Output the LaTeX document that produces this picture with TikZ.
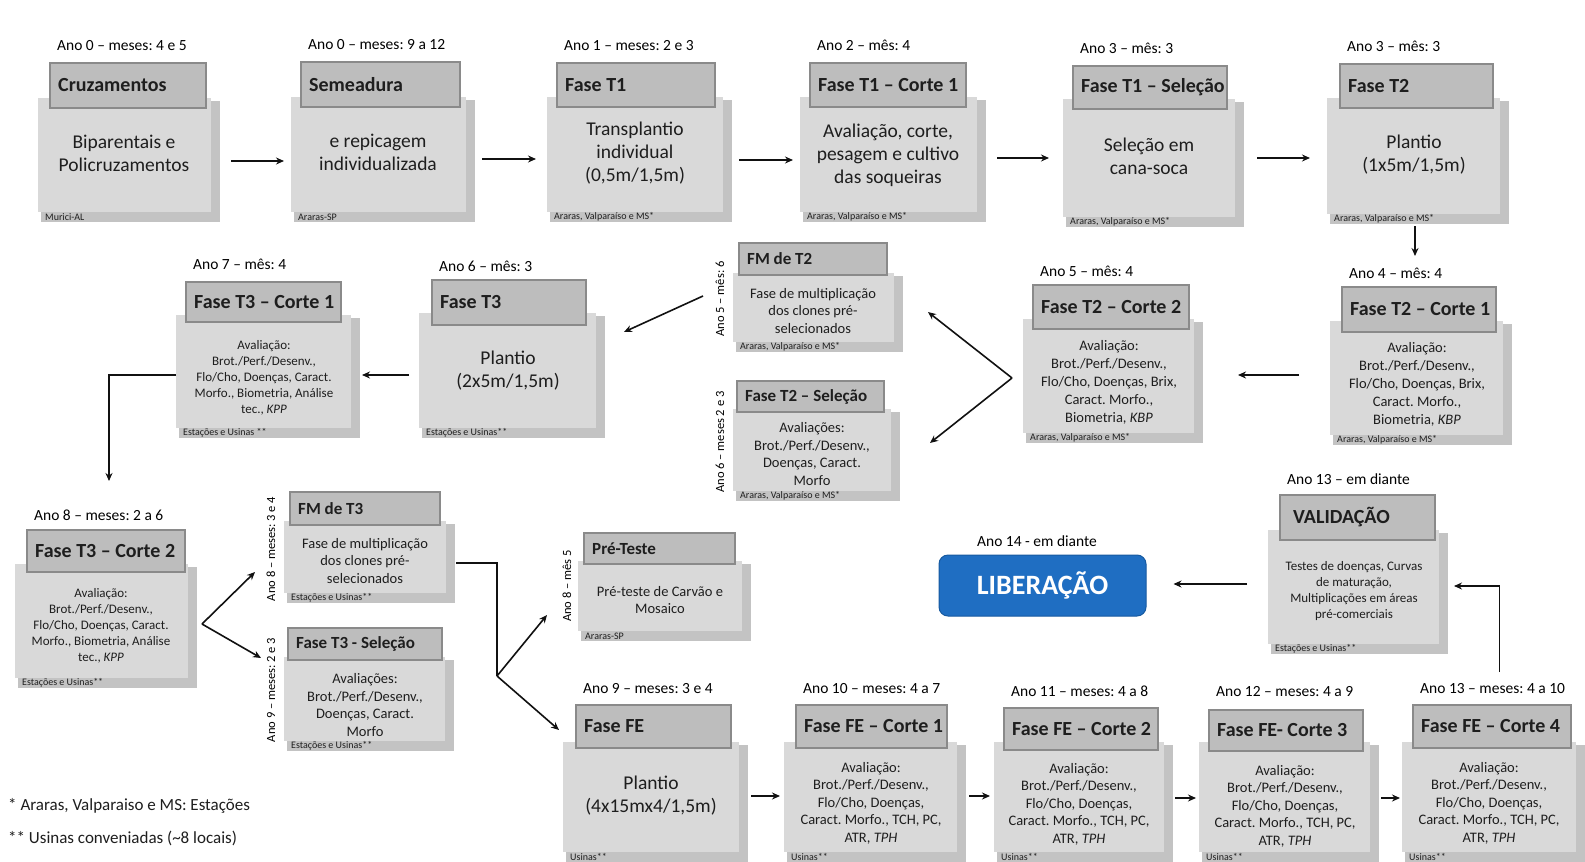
\documentclass[tikz,border=0pt]{standalone}
\usepackage{fontspec}
\setmainfont{Carlito}
\usetikzlibrary{arrows.meta}
\frenchspacing
\definecolor{frontc}{HTML}{D9D9D9}
\definecolor{backc}{HTML}{C3C3C3}
\definecolor{headc}{HTML}{BDBDBD}
\definecolor{bordc}{HTML}{8A8A8A}
\definecolor{txtc}{HTML}{1E1E1E}
\definecolor{libc}{HTML}{1F6EC2}
\definecolor{libb}{HTML}{175AA0}
\definecolor{arrc}{HTML}{111111}
\tikzset{
  boxn/.style={inner sep=0pt, outer sep=0pt},
  headbox/.style={fill=headc, draw=bordc, line width=1.2pt, inner sep=0pt, outer sep=0pt},
  htitle/.style={inner sep=0pt, text=txtc, font=\fontsize{20}{22}\selectfont\bfseries},
  hsmall/.style={inner sep=0pt, text=txtc, font=\fontsize{17}{20}\selectfont\bfseries},
  foot/.style={inner sep=0pt, text=txtc, font=\fontsize{10}{10}\selectfont},
  lbl/.style={inner sep=0pt, anchor=west, text=black, font=\fontsize{15.5}{18}\selectfont},
  rlbl/.style={inner sep=0pt, rotate=90, text=black, font=\fontsize{12.5}{14}\selectfont},
  body/.style={inner sep=0pt, align=center, text=txtc},
  bodyL/.style={body, font=\fontsize{19.5}{23}\selectfont},
  bodyM/.style={body, font=\fontsize{14.5}{18}\selectfont},
  bodyS/.style={body, font=\fontsize{13}{16}\selectfont},
  bodyF/.style={body, font=\fontsize{14.5}{17.5}\selectfont},
  note/.style={inner sep=0pt, anchor=west, text=txtc, font=\fontsize{17}{20}\selectfont},
  arr/.style={draw=arrc, line width=1.6pt, -{Stealth[length=8pt,width=7pt]}},
  thinarr/.style={draw=arrc, line width=1.1pt, -{Stealth[length=8pt,width=7pt]}},
  conn/.style={draw=arrc, line width=1.6pt},
  libbox/.style={fill=libc, draw=libb, line width=1pt, rounded corners=9pt, text=white,
    font=\fontsize{28}{30}\selectfont\bfseries, inner sep=0pt}
}
\newcommand{\phbox}[6]{%
  \fill[backc] ({#2+3},{#3+3}) rectangle (#4,#5);
  \fill[frontc] (#2,#3) rectangle ({#4-9},{#5-10});
  \node[boxn, minimum width={#4-#2}, minimum height={#5-#3}] (#1) at ({(#2+#4)/2},{(#3+#5)/2}) {};
  \node[foot, anchor=west] (#1-f) at ({#2+7},{#5-5}) {#6};
}
\newcommand{\phhead}[7][htitle]{%
  \node[headbox, minimum width={#5-#3}, minimum height={#6-#4}] (#2) at ({(#3+#5)/2},{(#4+#6)/2}) {};
  \node[#1, anchor=west] (#2-t) at ({#3+8},{(#4+#6)/2}) {#7};
}
\begin{document}
\begin{tikzpicture}[x=1pt,y=-1pt]
\useasboundingbox (0,0) rectangle (1585,862);
\fill[white] (0,0) rectangle (1585,862);
\clip (0,0) rectangle (1585,862);

% ---------- Row 1 ----------
\phbox{cruz}{38}{98}{220}{222}{Murici-AL}
\phhead{cruzh}{50}{63}{206}{108}{Cruzamentos}
\node[bodyL] (cruz-b) at (124,153) {Biparentais e\\Policruzamentos};
\node[lbl] (cruz-l) at (57,45.5) {Ano 0 – meses: 4 e 5};

\phbox{seme}{291}{97}{475}{222}{Araras-SP}
\phhead{semeh}{301}{62}{460}{107}{Semeadura}
\node[bodyL] (seme-b) at (378,152) {e repicagem\\individualizada};
\node[lbl] (seme-l) at (308,44.5) {Ano 0 – meses: 9 a 12};

\phbox{t1}{547}{97}{732}{222}{Araras, Valparaíso e MS*}
\phhead{t1h}{557}{63}{715}{107}{Fase T1}
\node[bodyL] (t1-b) at (635,153) {Transplantio\\individual\\(0,5m/1,5m)};
\node[lbl] (t1-l) at (564,45.5) {Ano 1 – meses: 2 e 3};

\phbox{t1c1}{800}{97}{986}{222}{Araras, Valparaíso e MS*}
\phhead{t1c1h}{810}{63}{966}{107}{Fase T1 – Corte 1}
\node[bodyL] (t1c1-b) at (888,155) {Avaliação, corte,\\pesagem e cultivo\\das soqueiras};
\node[lbl] (t1c1-l) at (817,45.5) {Ano 2 – mês: 4};

\phbox{t1s}{1063}{99}{1244}{227}{Araras, Valparaíso e MS*}
\phhead{t1sh}{1073}{66}{1227}{109}{Fase T1 – Seleção}
\node[bodyL] (t1s-b) at (1149,156) {Seleção em\\cana-soca};
\node[lbl] (t1s-l) at (1080,48.5) {Ano 3 – mês: 3};

\phbox{t2}{1327}{98}{1509}{224}{Araras, Valparaíso e MS*}
\phhead{t2h}{1340}{64}{1493}{108}{Fase T2}
\node[bodyL] (t2-b) at (1414,155) {Plantio\\(1x5m/1,5m)};
\node[lbl] (t2-l) at (1347,46) {Ano 3 – mês: 3};

% ---------- Row 2 ----------
\phbox{t2c1}{1330}{321}{1512}{445}{Araras, Valparaíso e MS*}
\phhead{t2c1h}{1342}{287}{1496}{332}{Fase T2 – Corte 1}
\node[bodyM] (t2c1-b) at (1417,384) {Avaliação:\\Brot./Perf./Desenv.,\\Flo/Cho, Doenças, Brix,\\Caract. Morfo.,\\Biometria, \textit{KBP}};
\node[lbl] (t2c1-l) at (1349,273) {Ano 4 – mês: 4};

\phbox{t2c2}{1023}{319}{1203}{443}{Araras, Valparaíso e MS*}
\phhead{t2c2h}{1033}{285}{1189}{329}{Fase T2 – Corte 2}
\node[bodyM] (t2c2-b) at (1109,382) {Avaliação:\\Brot./Perf./Desenv.,\\Flo/Cho, Doenças, Brix,\\Caract. Morfo.,\\Biometria, \textit{KBP}};
\node[lbl] (t2c2-l) at (1040,271) {Ano 5 – mês: 4};

\phbox{fmt2}{733}{273}{903}{352}{Araras, Valparaíso e MS*}
\phhead[hsmall]{fmt2h}{739}{243}{887}{275}{FM de T2}
\node[bodyF] (fmt2-b) at (813,311) {Fase de multiplicação\\dos clones pré-\\selecionados};
\node[rlbl] (fmt2-l) at (720,299) {Ano 5 – mês: 6};

\phbox{t2s}{733}{409}{900}{501}{Araras, Valparaíso e MS*}
\phhead[hsmall]{t2sh}{737}{381}{884}{412}{Fase T2 – Seleção}
\node[bodyF] (t2s-b) at (812,454) {Avaliações:\\Brot./Perf./Desenv.,\\Doenças, Caract.\\Morfo};
\node[rlbl] (t2s-l) at (720,442) {Ano 6 – meses 2 e 3};

\phbox{t3}{419}{313}{605}{438}{Estações e Usinas**}
\phhead{t3h}{432}{280}{586}{325}{Fase T3}
\node[bodyL] (t3-b) at (508,371) {Plantio\\(2x5m/1,5m)};
\node[lbl] (t3-l) at (439,266) {Ano 6 – mês: 3};

\phbox{t3c1}{176}{315}{360}{438}{Estações e Usinas **}
\phhead{t3c1h}{186}{282}{341}{322}{Fase T3 – Corte 1}
\node[bodyS] (t3c1-b) at (264,378) {Avaliação:\\Brot./Perf./Desenv.,\\Flo/Cho, Doenças, Caract.\\Morfo., Biometria, Análise\\tec., \textit{KPP}};
\node[lbl] (t3c1-l) at (193,264) {Ano 7 – mês: 4};

% ---------- Row 3 ----------
\phbox{t3c2}{15}{564}{197}{688}{Estações e Usinas**}
\phhead{t3c2h}{27}{530}{185}{572}{Fase T3 – Corte 2}
\node[bodyS] (t3c2-b) at (101,626) {Avaliação:\\Brot./Perf./Desenv.,\\Flo/Cho, Doenças, Caract.\\Morfo., Biometria, Análise\\tec., \textit{KPP}};
\node[lbl] (t3c2-l) at (34,515) {Ano 8 – meses: 2 a 6};

\phbox{fmt3}{284}{521}{455}{603}{Estações e Usinas**}
\phhead[hsmall]{fmt3h}{290}{492}{440}{525}{FM de T3}
\node[bodyF] (fmt3-b) at (365,561) {Fase de multiplicação\\dos clones pré-\\selecionados};
\node[rlbl] (fmt3-l) at (271,549) {Ano 8 – meses: 3 e 4};

\phbox{t3s}{284}{657}{454}{751}{Estações e Usinas**}
\phhead[hsmall]{t3sh}{288}{628}{442}{660}{Fase T3 - Seleção}
\node[bodyF] (t3s-b) at (365,705) {Avaliações:\\Brot./Perf./Desenv.,\\Doenças, Caract.\\Morfo};
\node[rlbl] (t3s-l) at (271,690) {Ano 9 – meses: 2 e 3};

\phbox{pre}{578}{561}{751}{641}{Araras-SP}
\phhead[hsmall]{preh}{584}{533}{735}{564}{Pré-Teste}
\node[bodyF] (pre-b) at (660,600) {Pré-teste de Carvão e\\Mosaico};
\node[rlbl] (pre-l) at (567,586) {Ano 8 – mês 5};

\node[libbox, minimum width=207, minimum height=61] (lib) at (1042.5,585.5) {LIBERAÇÃO};
\node[lbl, anchor=center] (lib-l) at (1037,541) {Ano 14 - em diante};

\phbox{val}{1268}{530}{1448}{654}{Estações e Usinas**}
\phhead{valh}{1280}{495}{1435}{540}{\hspace{5pt}VALIDAÇÃO}
\node[bodyS] (val-b) at (1354,591) {Testes de doenças, Curvas\\de maturação,\\Multiplicações em áreas\\pré-comerciais};
\node[lbl] (val-l) at (1287,479) {Ano 13 – em diante};

% ---------- Row 4 ----------
\phbox{fe}{563}{742}{748}{862}{Usinas**}
\phhead{feh}{576}{705}{731}{748}{Fase FE}
\node[bodyL] (fe-b) at (651,796) {Plantio\\(4x15mx4/1,5m)};
\node[lbl] (fe-l) at (583,689) {Ano 9 – meses: 3 e 4};

\phbox{fec1}{784}{742}{966}{862}{Usinas**}
\phhead{fec1h}{796}{705}{947}{748}{Fase FE – Corte 1}
\node[bodyF] (fec1-b) at (871,803) {Avaliação:\\Brot./Perf./Desenv.,\\Flo/Cho, Doenças,\\Caract. Morfo., TCH, PC,\\ATR, \textit{TPH}};
\node[lbl] (fec1-l) at (803,689) {Ano 10 – meses: 4 a 7};

\phbox{fec2}{994}{742}{1173}{862}{Usinas**}
\phhead{fec2h}{1004}{708}{1158}{750}{Fase FE – Corte 2}
\node[bodyF] (fec2-b) at (1079,804) {Avaliação:\\Brot./Perf./Desenv.,\\Flo/Cho, Doenças,\\Caract. Morfo., TCH, PC,\\ATR, \textit{TPH}};
\node[lbl] (fec2-l) at (1011,691) {Ano 11 – meses: 4 a 8};

\phbox{fec3}{1199}{742}{1379}{862}{Usinas**}
\phhead{fec3h}{1209}{710}{1363}{751}{Fase FE- Corte 3}
\node[bodyF] (fec3-b) at (1285,806) {Avaliação:\\Brot./Perf./Desenv.,\\Flo/Cho, Doenças,\\Caract. Morfo., TCH, PC,\\ATR, \textit{TPH}};
\node[lbl] (fec3-l) at (1216,692) {Ano 12 – meses: 4 a 9};

\phbox{fec4}{1402}{742}{1585}{862}{Usinas**}
\phhead{fec4h}{1413}{705}{1571}{748}{Fase FE – Corte 4}
\node[bodyF] (fec4-b) at (1489,803) {Avaliação:\\Brot./Perf./Desenv.,\\Flo/Cho, Doenças,\\Caract. Morfo., TCH, PC,\\ATR, \textit{TPH}};
\node[lbl] (fec4-l) at (1420,689) {Ano 13 – meses: 4 a 10};

% ---------- Notes ----------
\node[note] (n1) at (8,806) {* Araras, Valparaiso e MS: Estações};
\node[note] (n2) at (8,838) {** Usinas conveniadas (\textasciitilde 8 locais)};

% ---------- Connectors ----------
\draw[arr] ([xshift=11pt,yshift=-1pt]cruz.east) -- ([xshift=-7pt,yshift=-1.5pt]seme.west);
\draw[arr] ([xshift=7pt,yshift=0.5pt]seme.east) -- ([xshift=-11pt,yshift=0.5pt]t1.west);
\draw[arr] ([xshift=7pt,yshift=-0.5pt]t1.east) -- ([xshift=-7pt,yshift=-0.5pt]t1c1.west);
\draw[arr] ([xshift=11pt,yshift=1.5pt]t1c1.east) -- ([xshift=-14pt,yshift=5pt]t1s.west);
\draw[arr] ([xshift=13pt,yshift=5pt]t1s.east) -- ([xshift=-17pt,yshift=3pt]t2.west);
\draw[arr] ([xshift=-3pt,yshift=-2pt]t2.south) -- ([xshift=-4pt,yshift=31pt]t2c1h.north);
\draw[arr] ([xshift=-31pt,yshift=8pt]t2c1.west) -- ([xshift=35pt,yshift=6pt]t2c2.east);
\coordinate (j1) at ([xshift=-11pt,yshift=3pt]t2c2.west);
\draw[arr] (j1) -- ([xshift=25pt,yshift=0.5pt]fmt2.east);
\draw[arr] (j1) -- ([xshift=30pt,yshift=12pt]t2s.east);
\draw[arr] ([xshift=-30pt,yshift=16.5pt]fmt2.west) -- ([xshift=19pt,yshift=43.5pt]t3.east);
\draw[arr] ([xshift=-10pt,yshift=0.5pt]t3.west) -- ([xshift=2pt,yshift=1.5pt]t3c1.east);
\draw[thinarr] ([yshift=1.5pt]t3c1.west) -| ([xshift=3pt,yshift=83pt]t3c2.north);
\coordinate (j3) at ([xshift=5pt,yshift=2pt]t3c2.east);
\draw[arr] (j3) -- ([xshift=-29pt,yshift=-10pt]fmt3.west);
\draw[arr] (j3) -- ([xshift=-23pt,yshift=46pt]t3s.west);
\coordinate (j2) at ([xshift=42pt,yshift=-114pt]fmt3.east);
\draw[conn] ([xshift=1pt,yshift=-1pt]fmt3.east) -| (j2);
\draw[arr] (j2) -- ([xshift=-31pt,yshift=-14pt]pre.west);
\draw[arr] (j2) -- ([xshift=-4pt,yshift=72pt]fe.west);
\draw[thinarr] ([xshift=6pt,yshift=70pt]fec4.north) |- ([xshift=6pt,yshift=6pt]val.east);
\draw[arr] ([xshift=-21pt,yshift=8pt]val.west) -- ([xshift=27pt,yshift=1.5pt]lib.east);
\draw[arr] ([xshift=3pt,yshift=6pt]fe.east) -- ([xshift=-4pt,yshift=6pt]fec1.west);
\draw[arr] ([xshift=3pt,yshift=6pt]fec1.east) -- ([xshift=-4pt,yshift=6pt]fec2.west);
\draw[arr] ([xshift=2pt,yshift=4pt]fec2.east) -- ([xshift=-3pt,yshift=4pt]fec3.west);
\draw[arr] ([xshift=2pt,yshift=4pt]fec3.east) -- ([xshift=-2pt,yshift=4pt]fec4.west);
\end{tikzpicture}
\end{document}
